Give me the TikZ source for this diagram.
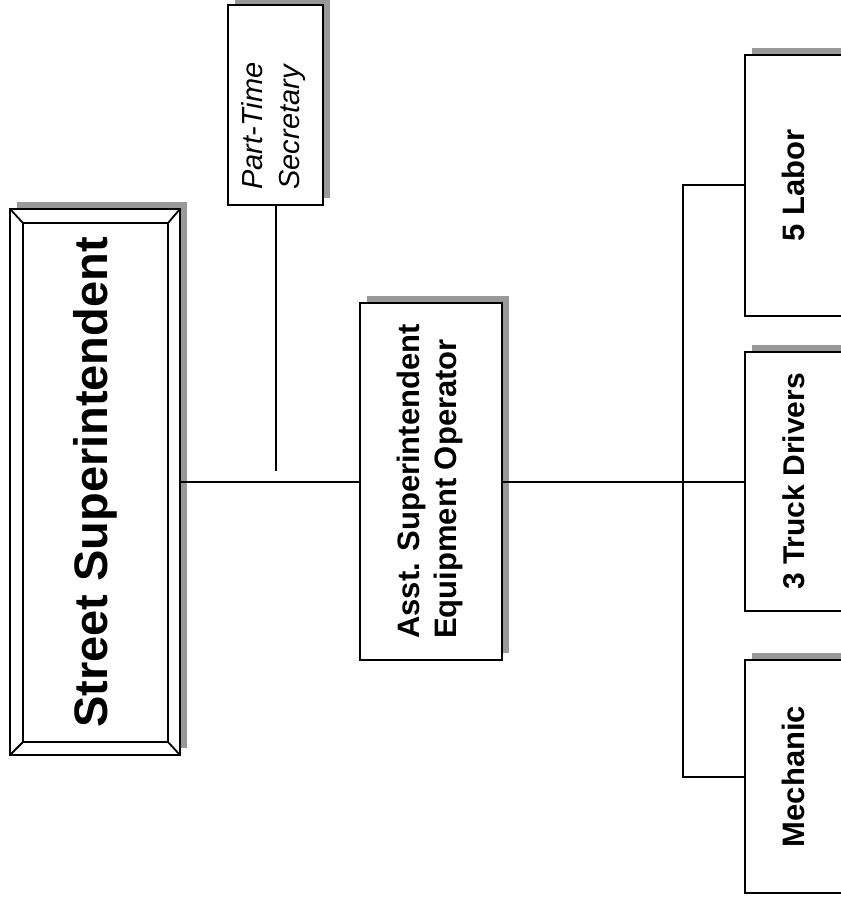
\documentclass[tikz,border=0pt]{standalone}
\usepackage{fontspec}
\setmainfont{Liberation Sans}
\begin{document}
\begin{tikzpicture}[x=1pt,y=-1pt,
  box/.style={draw=black, line width=2pt, fill=white, inner sep=0pt, outer sep=0pt},
  shadowfill/.style={fill=black!40, draw=none},
  wire/.style={line width=2pt},
  softtext/.style={font=\itshape\fontsize{29}{37}\selectfont}
]
\useasboundingbox (0,0) rectangle (840,904);

% ---------- shadows (up and to the right of each box)
\foreach \xa/\ya/\xb/\yb in {10/209/180/755, 228/5/323/205, 360/303/502/660,
    745/55/842/316, 745/352/842/611, 745/660/842/893}
  \fill[shadowfill] (\xa+7,\ya-7) rectangle (\xb+7,\yb-7);

% ---------- Street Superintendent (bevelled frame)
\node[box, minimum width=170pt, minimum height=546pt] (street) at (95,482) {};
\node[box, minimum width=145pt, minimum height=519pt] (streetin) at (95.5,482.5)
  {\rotatebox{90}{\bfseries\fontsize{47}{56}\selectfont Street Superintendent}};
\draw[line width=1.8pt] (street.north west) -- (streetin.north west)
  (street.north east) -- (streetin.north east)
  (street.south west) -- (streetin.south west)
  (street.south east) -- (streetin.south east);

% ---------- Part-Time Secretary
\node[box, minimum width=95pt, minimum height=200pt] (sec) at (275.5,105) {};
\node[softtext, inner sep=0pt] (sectext) at (273.5,126)
  {\rotatebox{90}{\begin{tabular}{@{}l@{}}Part-Time\\Secretary\end{tabular}}};

% ---------- Asst. Superintendent / Equipment Operator
\node[box, minimum width=142pt, minimum height=357pt] (asst) at (431,481.5)
  {\rotatebox{90}{\bfseries\fontsize{31}{37}\selectfont
   \begin{tabular}{@{}l@{}}Asst. Superintendent\\Equipment Operator\end{tabular}}};

% ---------- crews
\node[box, minimum width=97pt, minimum height=261pt] (labor) at (793.5,185.5)
  {\rotatebox{90}{\bfseries\fontsize{31}{37}\selectfont 5 Labor}};
\node[box, minimum width=97pt, minimum height=259pt] (truck) at (793.5,481.5)
  {\rotatebox{90}{\bfseries\fontsize{30}{37}\selectfont 3 Truck Drivers}};
\node[box, minimum width=97pt, minimum height=233pt] (mech) at (793.5,776.5)
  {\rotatebox{90}{\bfseries\fontsize{31}{37}\selectfont Mechanic}};

% ---------- connectors
\coordinate (secend) at (275.5,471);
\coordinate (bus) at (683,0);
\draw[wire] (street.east) -- (asst.west |- street.east);
\draw[wire] (sec.south) -- (secend);
\draw[wire] (asst.east) -- (truck.west);
\draw[wire] (labor.west) -| (bus |- mech.west) -- (mech.west);
\end{tikzpicture}
\end{document}
